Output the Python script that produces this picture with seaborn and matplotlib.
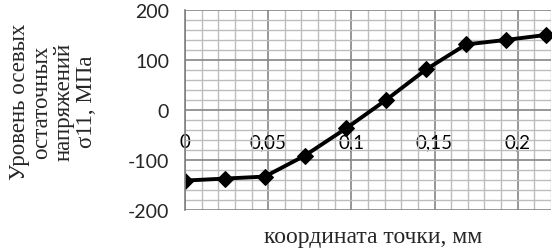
import matplotlib
matplotlib.use("Agg")
import matplotlib.pyplot as plt
import seaborn as sns
import pandas as pd
from matplotlib.ticker import MultipleLocator

x_mm = [0.0, 0.024, 0.048, 0.072, 0.097, 0.121, 0.145, 0.169, 0.193, 0.217]
sigma = [-142, -138, -134, -92, -37, 20, 81, 131, 140, 150]
x_ticks = [0, 0.05, 0.1, 0.15, 0.2]
x_tick_labels = ["0", "0,05", "0,1", "0,15", "0,2"]
y_ticks = [-200, -100, 0, 100, 200]
y_label = "Уровень осевых\nостаточных\nнапряжений\nσ11, МПа"
x_label = "координата точки, мм"

df = pd.DataFrame({"x": x_mm, "y": sigma})

sns.set_style("white")
plt.rcParams['font.family'] = ['Lato', 'DejaVu Sans']

fig = plt.figure(figsize=(5.55, 2.51), dpi=100)
ax = fig.add_axes([185/555, 1-210.5/251, (551-185)/555, (210.5-11)/251])

ax.set_xlim(0, 0.22)
ax.set_ylim(-200, 200)
ax.xaxis.set_minor_locator(MultipleLocator(0.01))
ax.yaxis.set_minor_locator(MultipleLocator(20))
ax.grid(which='minor', color='#bdbdbd', linewidth=1.0)
ax.grid(which='major', color='#858585', linewidth=1.2)
ax.set_axisbelow(True)

sns.lineplot(data=df, x="x", y="y", ax=ax, color='black', linewidth=2.8,
             marker='D', markersize=8.5, markeredgecolor='black', markerfacecolor='black')

for s in ['top', 'right']:
    ax.spines[s].set_visible(False)
ax.spines['left'].set_color('#808080')
ax.spines['left'].set_linewidth(1.2)
ax.spines['bottom'].set_position(('data', 0))
ax.spines['bottom'].set_visible(False)

ax.set_xticks(x_ticks)
ax.set_xticklabels(x_tick_labels)
ax.set_yticks(y_ticks)
ax.set_yticklabels([str(v) for v in y_ticks])
ax.tick_params(axis='x', which='both', length=0, pad=17, labelsize=13.5, colors='black')
ax.tick_params(axis='y', which='major', length=5.5, width=1.2, color='#808080', pad=6, labelsize=14)
ax.tick_params(axis='y', which='minor', length=0)
for lab in ax.get_xticklabels():
    lab.set_zorder(5)

ax.set_xlabel("")
ax.set_ylabel("")
fig.text(373/555, 1-238/251, x_label, ha='center', va='center',
         family=['Liberation Serif'], fontsize=17)
fig.text(53/555, 1-102/251, y_label, ha='center', va='center', rotation=90,
         family=['Liberation Serif'], fontsize=16.5, linespacing=1.1, multialignment='center')

fig.savefig("out.png", dpi=100)
